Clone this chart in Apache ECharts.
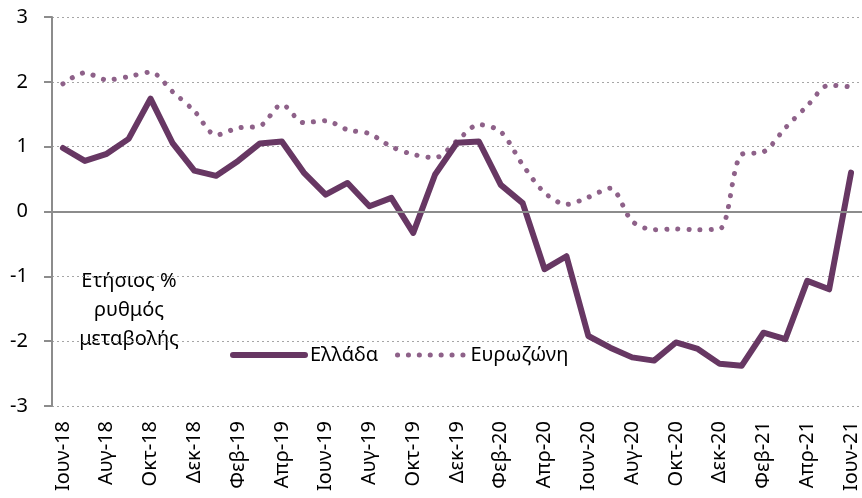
<!DOCTYPE html>
<html>
<head>
<meta charset="utf-8">
<script src="https://cdn.jsdelivr.net/npm/echarts@6/dist/echarts.min.js"></script>
<style>
  html,body{margin:0;padding:0;background:#fff;}
  #chart{width:862px;height:498px;}
</style>
</head>
<body>
<div id="chart"></div>
<script>
// μήνες Ιουν-18 ... Ιουν-21
const months=['Ιουν-18','Ιουλ-18','Αυγ-18','Σεπ-18','Οκτ-18','Νοε-18','Δεκ-18',
  'Ιαν-19','Φεβ-19','Μαρ-19','Απρ-19','Μαι-19','Ιουν-19','Ιουλ-19','Αυγ-19','Σεπ-19','Οκτ-19','Νοε-19','Δεκ-19',
  'Ιαν-20','Φεβ-20','Μαρ-20','Απρ-20','Μαι-20','Ιουν-20','Ιουλ-20','Αυγ-20','Σεπ-20','Οκτ-20','Νοε-20','Δεκ-20',
  'Ιαν-21','Φεβ-21','Μαρ-21','Απρ-21','Μαι-21','Ιουν-21']

const greece=[0.98,0.78,0.89,1.12,1.74,1.06,0.63,0.55,0.78,1.05,1.08,0.6,0.26,0.44,0.08,0.21,-0.33,0.57,1.06,
  1.08,0.41,0.13,-0.89,-0.69,-1.92,-2.1,-2.25,-2.3,-2.02,-2.12,-2.35,-2.38,-1.87,-1.97,-1.07,-1.2,0.6]

const eurozone=[1.97,2.14,2.03,2.08,2.15,1.85,1.55,1.18,1.29,1.32,1.65,1.37,1.4,1.26,1.2,1.0,0.88,0.83,1.09,
  1.34,1.23,0.72,0.29,0.11,0.22,0.36,-0.15,-0.28,-0.27,-0.28,-0.27,0.88,0.92,1.29,1.63,1.95,1.92]

const FONT='"Noto Sans", "DejaVu Sans", sans-serif'
const GR_COLOR='#673763'
const EZ_COLOR='#8e6189'

const legendText={fontFamily:FONT,fontSize:20,color:'#000'}
const noSymbol={color:'rgba(0,0,0,0)',borderWidth:0}

const myChart=echarts.init(document.querySelector('#chart'))
const option={
  animation:false,
  grid:{left:52,right:0,top:17,bottom:92},
  legend:[
    {
      left:225,
      top:340,
      itemWidth:72,
      itemHeight:14,
      textStyle:legendText,
      itemStyle:noSymbol,
      data:[{name:'Ελλάδα',lineStyle:{color:GR_COLOR,width:6,cap:'round'}}]
    },
    {
      left:390,
      top:340,
      itemWidth:68,
      itemHeight:14,
      textStyle:legendText,
      itemStyle:noSymbol,
      data:[{name:'Ευρωζώνη',lineStyle:{color:EZ_COLOR,width:5,type:[0.1,10.8],cap:'round'}}]
    }
  ],
  graphic:[{
    type:'text',
    x:129,
    y:267,
    style:{
      text:'Ετήσιος %\nρυθμός\nμεταβολής',
      fontFamily:FONT,
      fontSize:20,
      lineHeight:29,
      align:'center',
      verticalAlign:'top',
      fill:'#000'
    }
  }],
  xAxis:{
    type:'category',
    data:months,
    boundaryGap:true,
    axisLine:{show:false},
    axisTick:{show:false},
    axisLabel:{
      interval:1,
      rotate:90,
      margin:15,
      fontFamily:FONT,
      fontSize:20,
      color:'#000'
    }
  },
  yAxis:{
    type:'value',
    min:-3,
    max:3,
    interval:1,
    axisLine:{show:true,lineStyle:{color:'#8c8c8c',width:2}},
    axisTick:{show:true,length:8,lineStyle:{color:'#8c8c8c',width:2}},
    axisLabel:{margin:24,fontFamily:FONT,fontSize:20,color:'#000'},
    splitLine:{show:true,lineStyle:{color:'#a6a6a6',type:[2,3],width:1}}
  },
  series:[
    {
      name:'Ευρωζώνη',
      type:'line',
      data:eurozone,
      smooth:0.3,
      symbol:'none',
      color:EZ_COLOR,
      lineStyle:{color:EZ_COLOR,width:5,type:[0.1,11],cap:'round'},
      markLine:{
        silent:true,
        symbol:'none',
        label:{show:false},
        lineStyle:{color:'#8c8c8c',type:'solid',width:2},
        data:[{yAxis:0}]
      }
    },
    {
      name:'Ελλάδα',
      type:'line',
      data:greece,
      symbol:'none',
      color:GR_COLOR,
      lineStyle:{color:GR_COLOR,width:6,cap:'round',join:'round'}
    }
  ]
}
myChart.setOption(option)
</script>
</body>
</html>
